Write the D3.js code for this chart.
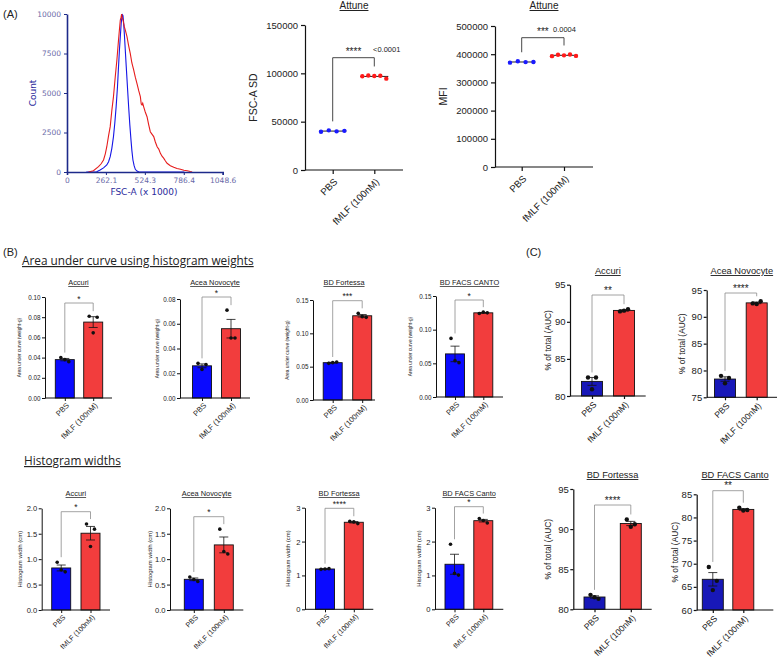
<!DOCTYPE html>
<html lang="en">
<head>
<meta charset="utf-8">
<title>FSC-A histogram weights</title>
<script src="https://cdn.jsdelivr.net/npm/d3@7"></script>
<style>
  body { margin: 0; background: #fff; }
  text { font-family: "Liberation Sans", Arial, sans-serif; fill: #222; }
</style>
</head>
<body>
<script>
var w = 778, h = 660;
var groups = ["PBS", "fMLF (100nM)"];

// (A) FSC-A histogram, [FSC-A x1000, count]
var histTicksX = [0, 262.1, 524.3, 786.4, 1048.6];
var histTicksY = [0, 2500, 5000, 7500, 10000];
var histRed = [[144,0],[178,80],[212,340],[230,520],[246,760],[258,1150],[268,1600],[280,2300],[291,2870],[302,3900],[313,4770],[325,6030],[336,7090],[347,8350],[353,9000],[359,9620],[364,9800],[368,10000],[372,9750],[377,9620],[386,9200],[395,8900],[404,8570],[415,8000],[426,7510],[437,6900],[449,6460],[460,6000],[471,5610],[483,5150],[494,4770],[500,4300],[505,4240],[510,4350],[516,4140],[527,3800],[539,3500],[550,3000],[561,2550],[572,2400],[584,2240],[595,1900],[607,1600],[618,1450],[629,1180],[640,1000],[652,865],[663,700],[674,550],[696,400],[719,295],[741,220],[764,170],[787,110],[810,84],[830,30],[843,0]];
var histBlue = [[130,0],[200,20],[223,127],[246,260],[268,443],[280,650],[291,970],[302,1500],[313,2240],[322,3100],[331,4140],[340,5400],[347,6670],[353,7700],[359,8570],[365,9400],[370,9830],[374,9950],[377,9900],[381,9500],[386,8770],[392,7800],[399,6670],[407,5400],[415,4140],[423,3000],[431,2020],[437,1350],[444,760],[452,400],[460,170],[471,60],[483,20],[520,0],[790,0]];

// (A) Attune, FSC-A SD and MFI
var sdTicks = [0, 50000, 100000, 150000];
var sdPBS = [39500, 41000, 40000, 40500];
var sdFMLF = [97000, 97800, 97200, 97500, 94500];
var mfiTicks = [0, 100000, 200000, 300000, 400000, 500000];
var mfiPBS = [370000, 375000, 372000, 372500];
var mfiFMLF = [393000, 398000, 396000, 399000, 394000];

// (B) area under curve using histogram weights (weight-g)
var aucAccuriPBS = [0.040, 0.036, 0.038], aucAccuriFMLF = [0.081, 0.080, 0.0645];
var aucAceaPBS = [0.028, 0.027, 0.023], aucAceaFMLF = [0.071, 0.0485, 0.0485];
var aucFortessaPBS = [0.055, 0.057, 0.056], aucFortessaFMLF = [0.130, 0.124, 0.125];
var aucCantoPBS = [0.087, 0.051, 0.054], aucCantoFMLF = [0.124, 0.125, 0.126];

// (B) histogram widths (cm)
var widAccuriPBS = [0.94, 0.75, 0.79], widAccuriFMLF = [1.69, 1.59, 1.25];
var widAceaPBS = [0.65, 0.56, 0.60], widAceaFMLF = [1.59, 1.10, 1.15];
var widFortessaPBS = [1.18, 1.20, 1.19], widFortessaFMLF = [2.60, 2.53, 2.58];
var widCantoPBS = [1.92, 1.01, 1.06], widCantoFMLF = [2.68, 2.55, 2.62];

// (C) % of total (AUC)
var pctAccuriPBS = [82.5, 82.5, 80.9], pctAccuriFMLF = [91.4, 91.7, 91.5];
var pctAceaPBS = [79.0, 78.6, 77.6], pctAceaFMLF = [92.5, 92.9, 92.4];
var pctFortessaPBS = [81.8, 81.3, 81.5], pctFortessaFMLF = [91.2, 90.6, 90.3];
var pctCantoPBS = [69.3, 66.3, 64.3], pctCantoFMLF = [82.1, 81.6, 81.5];

var svg = d3.select("body").append("svg").attr("width", w).attr("height", h);

//---------- panel letters and headings
function label(x, y, s, fs, anchor, extra) {
  var t = svg.append("text").attr("x", x).attr("y", y).text(s)
    .attr("font-size", fs).attr("text-anchor", anchor || "start");
  if (extra) extra(t);
  return t;
}
label(3, 18, "(A)", 11);
label(3, 256, "(B)", 11);
label(526, 256, "(C)", 11);
label(22, 265, "Area under curve using histogram weights", 11.8, "start", function(t) {
  t.style("font-family", "'Open Sans', sans-serif").attr("text-decoration", "underline");
});
label(24, 465, "Histogram widths", 11.8, "start", function(t) {
  t.style("font-family", "'Open Sans', sans-serif").attr("text-decoration", "underline");
});

//---------- (A) histogram
(function() {
  var navy = "#1d2a8a", tickCol = "#6a6aa8";
  var x = d3.scaleLinear().domain([0, 1048.6]).range([67, 222.7]);
  var y = d3.scaleLinear().domain([0, 10000]).range([172, 14]);
  var g = svg.append("g");
  var line = d3.line().x(function(d) { return x(d[0]); }).y(function(d) { return y(d[1]); });

  g.append("path").datum(histBlue).attr("d", line).attr("fill", "none")
    .attr("stroke", "#1515e6").attr("stroke-width", 1.1);
  g.append("path").datum(histRed).attr("d", line).attr("fill", "none")
    .attr("stroke", "#e61c1c").attr("stroke-width", 1.1);

  var ax = g.append("g").attr("transform", "translate(0,172)")
    .call(d3.axisBottom(x).tickValues(histTicksX).tickFormat(function(d) { return d === 0 ? "0" : d3.format(".1f")(d); }).tickSize(3).tickSizeOuter(3));
  var ay = g.append("g").attr("transform", "translate(67,0)")
    .call(d3.axisLeft(y).tickValues(histTicksY).tickFormat(d3.format("d")).tickSize(3).tickSizeOuter(0));
  [ax, ay].forEach(function(a) {
    a.select(".domain").attr("stroke", navy).attr("stroke-width", 1.6);
    a.selectAll(".tick line").attr("stroke", navy);
    a.selectAll(".tick text").style("font-family", "'DejaVu Sans', sans-serif")
      .attr("font-size", 7.5).style("fill", tickCol);
  });
  g.append("text").attr("transform", "translate(33,93) rotate(-90)").attr("text-anchor", "middle")
    .attr("dy", "0.35em").text("Count").style("font-family", "'DejaVu Sans', sans-serif")
    .attr("font-size", 9).style("fill", "#2b2b9c");
  g.append("text").attr("x", 144).attr("y", 195).attr("text-anchor", "middle")
    .text("FSC-A (x 1000)").style("font-family", "'DejaVu Sans', sans-serif")
    .attr("font-size", 9).style("fill", "#2b2b9c");
})();

//---------- rotated category labels, drawn as separate text under each tick
function rotLabels(g, x, base, fs, tx, ty) {
  g.selectAll(null).data(groups).enter().append("text")
    .attr("transform", function(d) { return "translate(" + (x(d) + tx) + "," + (base + ty) + ") rotate(-45)"; })
    .attr("text-anchor", "end").attr("dy", "0.35em")
    .attr("font-size", fs).text(function(d) { return d; });
}

function styleAxis(a, sw) {
  a.select(".domain").attr("stroke", "#111").attr("stroke-width", sw);
  a.selectAll(".tick line").attr("stroke", "#111").attr("stroke-width", sw);
}

//---------- (A) Attune scatter charts
function scatterChart(L, pbs, fmlf) {
  var g = svg.append("g");
  var y = d3.scaleLinear().domain([0, L.max]).range([L.bottom, L.top]);
  var x = d3.scalePoint().domain(groups).range([L.c1, L.c2]);
  var sets = [{k: groups[0], v: pbs, c: "#1a1aff", sp: 7.8}, {k: groups[1], v: fmlf, c: "#ff1a1a", sp: 6}];

  sets.forEach(function(s) {
    var n = s.v.length;
    var cx = function(i) { return x(s.k) + (i - (n - 1) / 2) * s.sp; };
    g.append("line").attr("x1", cx(0) - 2).attr("x2", cx(n - 1) + 2)
      .attr("y1", y(d3.mean(s.v))).attr("y2", y(d3.mean(s.v)))
      .attr("stroke", "#222").attr("stroke-width", 1);
    g.selectAll(null).data(s.v).enter().append("circle")
      .attr("cx", function(d, i) { return cx(i); })
      .attr("cy", function(d) { return y(d); })
      .attr("r", 2.2).attr("fill", s.c);
  });

  var ay = g.append("g").attr("transform", "translate(" + L.ax + ",0)")
    .call(d3.axisLeft(y).tickValues(L.ticks).tickFormat(d3.format("d")).tickSize(4).tickSizeOuter(0));
  ay.selectAll(".tick text").attr("font-size", 9.5);
  styleAxis(ay, 1.2);
  var axb = g.append("g").attr("transform", "translate(0," + L.bottom + ")")
    .call(d3.axisBottom(x).tickSize(4).tickSizeOuter(0).tickFormat(""));
  axb.select(".domain").remove();
  axb.append("line").attr("x1", L.ax).attr("x2", L.end).attr("stroke", "#111").attr("stroke-width", 1.2);
  styleAxis(axb, 1.2);
  rotLabels(g, x, L.bottom, 9.7, 3, 10);

  // bracket
  var lx = x(groups[0]), rx = x(groups[1]);
  var ly = y(d3.max(pbs)) - 9, ry = y(d3.max(fmlf)) - 9;
  g.append("path").attr("d", "M" + lx + "," + ly + "V" + L.br + "H" + rx + "V" + ry)
    .attr("fill", "none").attr("stroke", "#333").attr("stroke-width", 0.9);
  var mid = (lx + rx) / 2;
  g.append("text").attr("x", mid).attr("y", L.br - 3).attr("text-anchor", "middle")
    .attr("font-size", 10).text(L.stars);
  g.append("text").attr("x", L.px).attr("y", L.br - 6).attr("font-size", 7.5).text(L.p);

  g.append("text").attr("x", (L.ax + L.end) / 2).attr("y", 9).attr("text-anchor", "middle")
    .attr("font-size", 10).attr("text-decoration", "underline").text("Attune");
  g.append("text").attr("transform", "translate(" + L.ylx + "," + ((L.top + L.bottom) / 2) + ") rotate(-90)")
    .attr("text-anchor", "middle").attr("dy", "0.35em").attr("font-size", 10.5).text(L.ylab);
}

scatterChart({ax: 305, end: 403, top: 25, bottom: 170, c1: 332.7, c2: 374.3, max: 150000,
  ticks: sdTicks, br: 57.7, stars: "****", p: "<0.0001", px: 373, ylab: "FSC-A SD", ylx: 253}, sdPBS, sdFMLF);
scatterChart({ax: 495, end: 593, top: 26, bottom: 167, c1: 521.7, c2: 564, max: 500000,
  ticks: mfiTicks, br: 37.7, stars: "***", p: "0.0004", px: 553, ylab: "MFI", ylx: 443}, mfiPBS, mfiFMLF);

//---------- (B)/(C) bar charts
var smallStyle = {tick: 6.3, title: 7.4, xl: 7.6, yl: 4.8, star: 8.5, barW: 19, blue: "#0a0aff", r: 1.8, aw: 1, lx: 3, ly: 6};
var midStyle = {tick: 7.6, title: 7.4, xl: 7.2, yl: 6, star: 8.5, barW: 19, blue: "#0a0aff", r: 1.8, aw: 1, lx: 3, ly: 6};
var bigStyle = {tick: 9.5, title: 9.3, xl: 8.6, yl: 8.4, star: 10, barW: 21, blue: "#1818b8", r: 2.2, aw: 1.2, lx: 3, ly: 7};
var jitter = [-4, 4, 0];

function barChart(L, pbs, fmlf, S) {
  var g = svg.append("g");
  var y = d3.scaleLinear().domain(L.domain).range([L.bottom, L.top]);
  var x = d3.scalePoint().domain(groups).range([L.c1, L.c2]);
  var sets = [{k: groups[0], v: pbs, fill: S.blue}, {k: groups[1], v: fmlf, fill: "#f23d3d"}];
  sets.forEach(function(s) {
    s.mean = d3.mean(s.v);
    s.sem = d3.deviation(s.v) / Math.sqrt(s.v.length);
  });

  g.selectAll("rect").data(sets).enter().append("rect")
    .attr("x", function(d) { return x(d.k) - S.barW / 2; })
    .attr("y", function(d) { return y(d.mean); })
    .attr("width", S.barW)
    .attr("height", function(d) { return y(L.domain[0]) - y(d.mean); })
    .attr("fill", function(d) { return d.fill; })
    .attr("stroke", "#111").attr("stroke-width", 0.9);

  // error bars (mean +/- SEM)
  sets.forEach(function(s) {
    var cx = x(s.k), hi = y(s.mean + s.sem), lo = y(Math.max(L.domain[0], s.mean - s.sem));
    g.append("path").attr("d", "M" + cx + "," + lo + "V" + hi + "M" + (cx - 4.5) + "," + hi + "H" + (cx + 4.5)
        + "M" + (cx - 4.5) + "," + lo + "H" + (cx + 4.5))
      .attr("fill", "none").attr("stroke", "#111").attr("stroke-width", 0.8);
    g.selectAll(null).data(s.v).enter().append("circle")
      .attr("cx", function(d, i) { return cx + jitter[i]; })
      .attr("cy", function(d) { return y(d); })
      .attr("r", S.r).attr("fill", "#111");
  });

  var ay = g.append("g").attr("transform", "translate(" + L.ax + ",0)")
    .call(d3.axisLeft(y).tickValues(L.ticks).tickFormat(d3.format(L.fmt)).tickSize(3).tickSizeOuter(0));
  ay.selectAll(".tick text").attr("font-size", S.tick).attr("x", -4.5);
  styleAxis(ay, S.aw);
  var axb = g.append("g").attr("transform", "translate(0," + L.bottom + ")")
    .call(d3.axisBottom(x).tickSize(3).tickSizeOuter(0).tickFormat(""));
  axb.select(".domain").remove();
  axb.append("line").attr("x1", L.ax).attr("x2", L.end).attr("stroke", "#111");
  styleAxis(axb, S.aw);
  rotLabels(g, x, L.bottom, S.xl, S.lx, S.ly);

  // significance bracket
  var lx = x(groups[0]), rx = x(groups[1]);
  var ly = Math.min(y(d3.max(pbs)), y(sets[0].mean + sets[0].sem)) - 5;
  var ry = Math.min(y(d3.max(fmlf)), y(sets[1].mean + sets[1].sem)) - 5;
  g.append("path").attr("d", "M" + lx + "," + ly + "V" + L.br + "H" + rx + "V" + ry)
    .attr("fill", "none").attr("stroke", "#8c8c8c").attr("stroke-width", 0.8);
  g.append("text").attr("x", (lx + rx) / 2).attr("y", L.br - 1.5).attr("text-anchor", "middle")
    .attr("font-size", S.star).text(L.stars);

  g.append("text").attr("x", (L.ax + L.end) / 2).attr("y", L.ty).attr("text-anchor", "middle")
    .attr("font-size", S.title).attr("text-decoration", "underline").text(L.title);
  g.append("text").attr("transform", "translate(" + L.ylx + "," + ((L.top + L.bottom) / 2) + ") rotate(-90)")
    .attr("text-anchor", "middle").attr("dy", "0.35em").attr("font-size", S.yl).text(L.ylab);
}

var aucLab = "Area under curve (weight-g)", widLab = "Histogram width (cm)", pctLab = "% of total  (AUC)";

barChart({ax: 45, end: 112, top: 297, bottom: 398, c1: 64.8, c2: 93.2, domain: [0, 0.1], ticks: [0, 0.02, 0.04, 0.06, 0.08, 0.1], fmt: ".2f",
  br: 303, stars: "*", title: "Accuri", ty: 285, ylab: aucLab, ylx: 19.5}, aucAccuriPBS, aucAccuriFMLF, smallStyle);
barChart({ax: 180, end: 250, top: 299, bottom: 398, c1: 202, c2: 231, domain: [0, 0.08], ticks: [0, 0.02, 0.04, 0.06, 0.08], fmt: ".2f",
  br: 297, stars: "*", title: "Acea Novocyte", ty: 285, ylab: aucLab, ylx: 157}, aucAceaPBS, aucAceaFMLF, smallStyle);
barChart({ax: 313, end: 375, top: 300, bottom: 400, c1: 332.7, c2: 362.2, domain: [0, 0.15], ticks: [0, 0.05, 0.1, 0.15], fmt: ".2f",
  br: 300.7, stars: "***", title: "BD Fortessa", ty: 285, ylab: aucLab, ylx: 287}, aucFortessaPBS, aucFortessaFMLF, smallStyle);
barChart({ax: 436, end: 503, top: 296, bottom: 397, c1: 455, c2: 483.3, domain: [0, 0.15], ticks: [0, 0.05, 0.1, 0.15], fmt: ".2f",
  br: 300, stars: "*", title: "BD FACS CANTO", ty: 285, ylab: aucLab, ylx: 410}, aucCantoPBS, aucCantoFMLF, smallStyle);

barChart({ax: 41.7, end: 110, top: 508.3, bottom: 610, c1: 61.2, c2: 90.5, domain: [0, 2], ticks: [0, 0.5, 1, 1.5, 2], fmt: ".1f",
  br: 511.7, stars: "*", title: "Accuri", ty: 496, ylab: widLab, ylx: 19.5}, widAccuriPBS, widAccuriFMLF, midStyle);
barChart({ax: 170, end: 243.3, top: 508.3, bottom: 610, c1: 193.8, c2: 223.8, domain: [0, 2], ticks: [0, 0.5, 1, 1.5, 2], fmt: ".1f",
  br: 516.7, stars: "*", title: "Acea Novocyte", ty: 496, ylab: widLab, ylx: 150}, widAceaPBS, widAceaFMLF, midStyle);
barChart({ax: 305, end: 373.3, top: 507.7, bottom: 609.3, c1: 325, c2: 353.8, domain: [0, 3], ticks: [0, 1, 2, 3], fmt: "d",
  br: 508.3, stars: "****", title: "BD Fortessa", ty: 496, ylab: widLab, ylx: 288}, widFortessaPBS, widFortessaFMLF, midStyle);
barChart({ax: 435, end: 503.3, top: 507.7, bottom: 609.3, c1: 454.5, c2: 483.3, domain: [0, 3], ticks: [0, 1, 2, 3], fmt: "d",
  br: 506.7, stars: "*", title: "BD FACS Canto", ty: 496, ylab: widLab, ylx: 419}, widCantoPBS, widCantoFMLF, midStyle);

barChart({ax: 570, end: 645.7, top: 284.7, bottom: 396, c1: 592, c2: 624, domain: [80, 95], ticks: [80, 85, 90, 95], fmt: "d",
  br: 295, stars: "**", title: "Accuri", ty: 274, ylab: pctLab, ylx: 548}, pctAccuriPBS, pctAccuriFMLF, bigStyle);
barChart({ax: 706.7, end: 777, top: 290, bottom: 397.3, c1: 725, c2: 756.7, domain: [75, 95], ticks: [75, 80, 85, 90, 95], fmt: "d",
  br: 293, stars: "****", title: "Acea Novocyte", ty: 274, ylab: pctLab, ylx: 682}, pctAceaPBS, pctAceaFMLF, bigStyle);
barChart({ax: 573.3, end: 651.7, top: 489, bottom: 609.3, c1: 594.5, c2: 630.8, domain: [80, 95], ticks: [80, 85, 90, 95], fmt: "d",
  br: 505, stars: "****", title: "BD Fortessa", ty: 478, ylab: pctLab, ylx: 548}, pctFortessaPBS, pctFortessaFMLF, bigStyle);
barChart({ax: 696.7, end: 773.3, top: 494.3, bottom: 610, c1: 712.8, c2: 743.3, domain: [60, 85], ticks: [60, 65, 70, 75, 80, 85], fmt: "d",
  br: 490.7, stars: "**", title: "BD FACS Canto", ty: 478, ylab: pctLab, ylx: 675}, pctCantoPBS, pctCantoFMLF, bigStyle);
</script>
</body>
</html>
